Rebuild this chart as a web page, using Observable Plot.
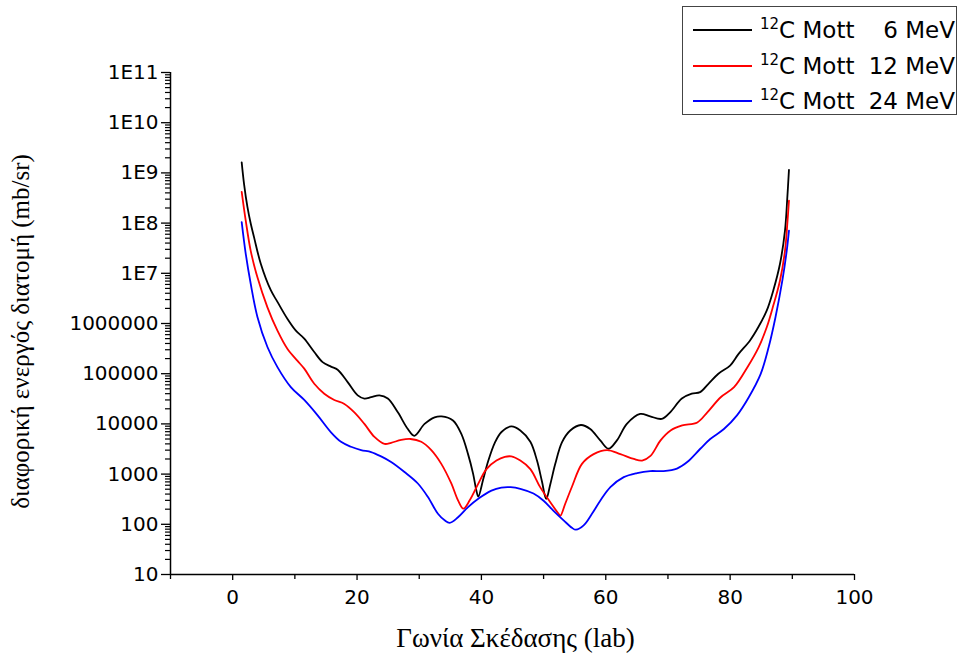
<!DOCTYPE html>
<html>
<head>
<meta charset="utf-8">
<script src="https://cdn.jsdelivr.net/npm/d3@7"></script>
<script src="https://cdn.jsdelivr.net/npm/@observablehq/plot@0.6"></script>
<style>
  body { margin: 0; background: #fff; }
  #wrap { position: relative; width: 965px; height: 658px; }
  #legend { position: absolute; left: 682px; top: 6px; width: 275px; height: 109px;
    border: 1px solid #444; background: #fff; font-family: "DejaVu Sans", sans-serif; font-size: 23px; color: #000; box-sizing: border-box; }
  .row { position: absolute; left: 0; right: 0; height: 30px; }
  .sw { position: absolute; left: 10px; width: 59px; top: 15px; height: 2px; }
  .lt { position: absolute; left: 77px; top: 1px; line-height: 30px; white-space: nowrap; }
  .lt sup { font-size: 15px; vertical-align: 0; position: relative; top: -9px; }
  .rt { position: absolute; right: 1px; top: 1px; line-height: 30px; white-space: nowrap; }
</style>
</head>
<body>
<div id="wrap"></div>
<script>
// ---- data ----
const seriesNames = ["6 MeV", "12 MeV", "24 MeV"];
const seriesColors = ["#000000", "#ff0000", "#0000ff"];

const angle6 = [1.45,1.83,2.37,2.9,3.44,4.52,6.13,7.2,8.82,10.16,11.51,13.12,14.46,15.81,16.88,18.49,20.11,21.18,22.26,23.6,24.95,26.56,28.17,29.2,30.86,32.47,33.6,35.43,36.77,37.85,38.66,39.19,39.5,40.3,41.08,42.15,43.23,44.8,46.26,47.87,48.94,49.74,50.42,51.08,51.88,52.95,54.29,56.0,57.5,59.11,60.45,61.79,63.39,65.53,67.14,69.01,70.35,72.23,73.83,75.17,76.51,78.11,79.99,81.33,83.2,84.54,85.88,86.95,88.02,88.82,89.2,89.46];
const sigma6 = [1.62e9,6.0e8,2.1e8,9.8e7,5.2e7,1.55e7,4.6e6,2.7e6,1.23e6,7.2e5,5.0e5,2.7e5,1.7e5,1.38e5,1.2e5,6.8e4,3.7e4,3.2e4,3.4e4,3.7e4,3.2e4,1.7e4,7.9e3,5.8e3,1.0e4,1.35e4,1.41e4,1.17e4,6.3e3,2.5e3,1.02e3,470,355,800,1.8e3,4.2e3,6.9e3,8.9e3,7.4e3,4.4e3,1.86e3,710,320,630,1.6e3,4.3e3,7.4e3,9.5e3,7.9e3,4.7e3,3.2e3,4.7e3,1.0e4,1.58e4,1.41e4,1.26e4,1.7e4,3.2e4,4.0e4,4.3e4,6.3e4,1.0e5,1.45e5,2.45e5,4.6e5,8.5e5,1.8e6,4.6e6,1.55e7,7.1e7,3.3e8,1.15e9];

const angle12 = [1.45,2.1,2.9,3.98,5.59,7.2,8.82,10.43,11.51,13.12,14.73,16.34,17.96,19.57,21.18,22.8,24.41,25.48,27.1,28.6,30.32,31.94,33.55,35.16,36.24,37.1,38.12,39.46,40.81,42.42,43.76,44.8,46.26,47.87,49.45,51.08,52.41,52.7,53.48,54.56,56.17,58.05,60.2,62.35,64.51,65.85,67.19,68.81,70.42,72.3,74.72,76.33,78.48,80.63,82.78,84.6,85.9,86.95,88.02,88.82,89.2,89.46];
const sigma12 = [4.2e8,1.12e8,2.8e7,8.3e6,2.1e6,7.2e5,3.1e5,1.8e5,1.26e5,6.3e4,4.0e4,3.0e4,2.5e4,1.7e4,1.0e4,5.5e3,4.0e3,4.2e3,4.8e3,5.0e3,4.4e3,3.0e3,1.6e3,650,300,205,300,630,1.26e3,1.86e3,2.2e3,2.25e3,1.86e3,1.26e3,550,275,162,148,257,560,1.6e3,2.5e3,3.0e3,2.5e3,2.0e3,1.86e3,2.3e3,4.7e3,7.4e3,9.3e3,1.07e4,1.7e4,3.4e4,5.4e4,1.35e5,3.4e5,8.5e5,2.3e6,7.2e6,2.8e7,9.8e7,2.8e8];

const angle24 = [1.45,2.1,2.9,3.98,5.59,7.2,9.35,11.51,13.66,15.81,17.42,19.03,20.65,22.26,23.87,25.48,27.63,29.78,31.4,33.01,34.09,34.9,36.24,37.85,39.6,41.61,43.2,44.7,46.26,48.38,50.0,51.6,53.22,54.56,55.2,56.44,57.78,59.11,60.74,62.89,65.04,67.14,69.3,71.45,73.1,75.2,76.8,79.0,81.1,83.0,84.9,86.2,87.3,88.4,89.1,89.46];
const sigma24 = [1.05e8,2.45e7,6.2e6,1.35e6,3.4e5,1.35e5,5.4e4,3.0e4,1.48e4,6.8e3,4.4e3,3.5e3,3.0e3,2.75e3,2.25e3,1.74e3,1.1e3,650,350,162,120,107,138,220,330,470,540,550,510,410,295,186,120,85,78,95,162,295,550,870,1.05e3,1.15e3,1.15e3,1.29e3,1.74e3,3.2e3,5.0e3,7.9e3,1.48e4,3.4e4,9.8e4,3.4e5,1.35e6,7.2e6,2.8e7,7.1e7];

const xTicks = [0, 20, 40, 60, 80, 100];
const xMinorTicks = [-10, 10, 30, 50, 70, 90];
const yTicks = [10, 100, 1000, 1e4, 1e5, 1e6, 1e7, 1e8, 1e9, 1e10, 1e11];
const yTickLabels = ["10", "100", "1000", "10000", "100000", "1000000", "1E7", "1E8", "1E9", "1E10", "1E11"];
const xTitle = "Γωνία Σκέδασης (lab)";
const yTitle = "διαφορική ενεργός διατομή (mb/sr)";
const legendLeft = ["C Mott", "C Mott", "C Mott"];
const legendSup = "12";

// ---- build table ----
const data = [];
[[angle6, sigma6], [angle12, sigma12], [angle24, sigma24]].forEach(([a, s], k) => {
  a.forEach((v, i) => data.push({series: seriesNames[k], angle: v, sigma: s[i]}));
});
const yLabelMap = new Map(yTicks.map((t, i) => [t, yTickLabels[i]]));
const yMinor = [];
for (let k = 1; k < 11; k++) for (let m = 2; m <= 9; m++) yMinor.push(m * Math.pow(10, k));

const chart = Plot.plot({
  width: 965, height: 658,
  marginLeft: 170, marginRight: 111, marginTop: 72, marginBottom: 84,
  style: {fontFamily: "DejaVu Sans, sans-serif", fontSize: "20px", color: "#000", background: "#fff", overflow: "visible"},
  x: {domain: [-10, 100]},
  y: {type: "log", domain: [10, 1e11]},
  color: {domain: seriesNames, range: seriesColors},
  marks: [
    Plot.axisY(yMinor, {tickSize: 5, text: null, label: null, strokeWidth: 1.2}),
    Plot.axisY(yTicks, {tickSize: 9, tickPadding: 3, tickFormat: d => yLabelMap.get(d), label: null, strokeWidth: 1.3, fill: "#000"}),
    Plot.axisX(xMinorTicks, {tickSize: 5, text: null, label: null, strokeWidth: 1.3}),
    Plot.axisX(xTicks, {tickSize: 6, tickPadding: 9, label: null, strokeWidth: 1.3, fill: "#000"}),
    Plot.ruleX([-10], {stroke: "#000", strokeWidth: 1.5}),
    Plot.ruleY([10], {stroke: "#000", strokeWidth: 1.5}),
    Plot.line(data, {x: "angle", y: "sigma", z: "series", stroke: "series", curve: "catmull-rom", strokeWidth: 1.8}),
    Plot.text([xTitle], {text: d => d, frameAnchor: "bottom", dx: 3, dy: 64, lineAnchor: "middle", fontFamily: "Liberation Serif, serif", fontSize: 27, fill: "#000"}),
    Plot.text([yTitle], {text: d => d, frameAnchor: "left", dx: -150, dy: 8, rotate: -90, textAnchor: "middle", lineAnchor: "middle", fontFamily: "Liberation Serif, serif", fontSize: 25, fill: "#000"})
  ]
});
const wrap = document.getElementById("wrap");
wrap.appendChild(chart);

// ---- legend ----
const legend = document.createElement("div");
legend.id = "legend";
seriesNames.forEach((name, i) => {
  const row = document.createElement("div");
  row.className = "row";
  row.style.top = (7 + i * 35.5) + "px";
  row.innerHTML = `<div class="sw" style="background:${seriesColors[i]}"></div>` +
    `<div class="lt"><sup>${legendSup}</sup>${legendLeft[i]}</div><div class="rt">${name}</div>`;
  legend.appendChild(row);
});
wrap.appendChild(legend);
</script>
</body>
</html>
